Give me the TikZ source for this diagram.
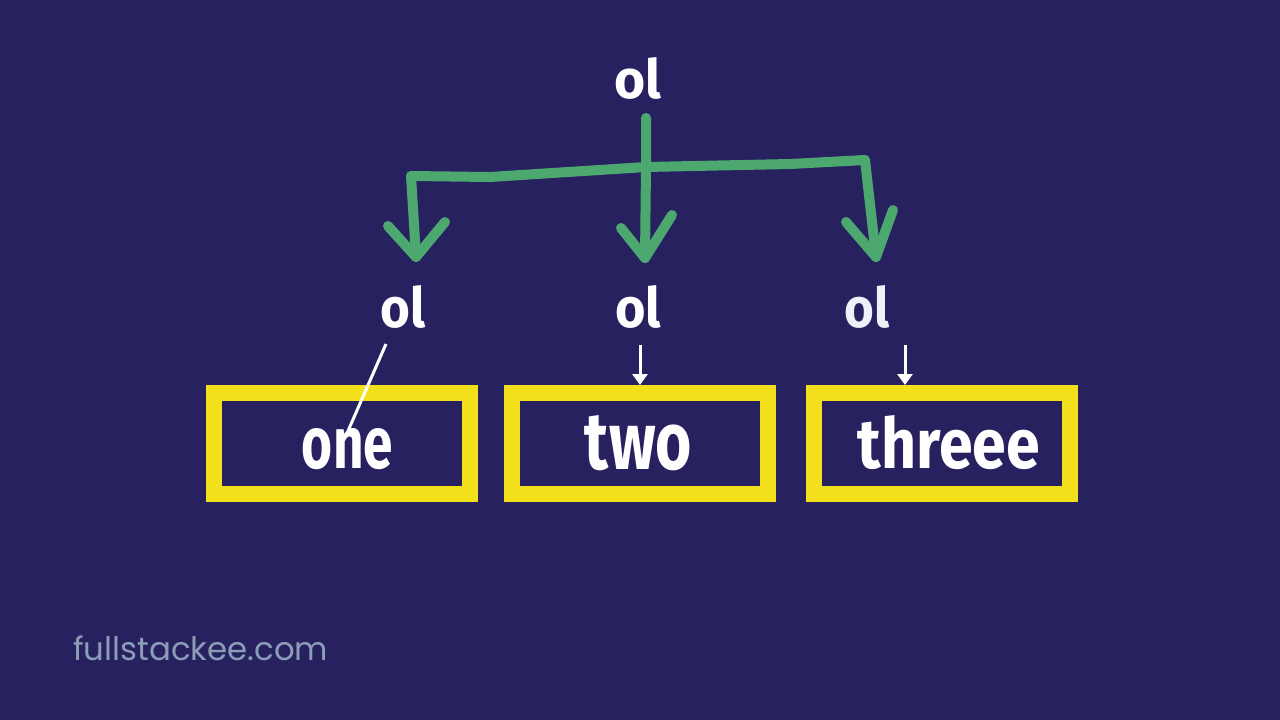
\documentclass[tikz,border=0pt]{standalone}
\usepackage{fontspec}
\usetikzlibrary{arrows.meta}
\newfontfamily\lblfont{Fira Sans}
\newfontfamily\footfont{Poppins}
\definecolor{bg}{HTML}{27215F}
\definecolor{grn}{HTML}{4CA86E}
\definecolor{ylw}{HTML}{F2E01A}
\definecolor{foot}{HTML}{8C9DB8}
\definecolor{offw}{HTML}{EEF2F8}
\newcommand{\lbl}[3]{\resizebox{#1pt}{#2pt}{\lblfont\bfseries #3}}
\tikzset{
  word/.style={inner sep=0pt, outer sep=0pt, anchor=base, text=white},
  ybox/.style={draw=ylw, line width=16pt, minimum width=256pt, minimum height=101pt, inner sep=0pt},
  garrow/.style={draw=grn, line width=10pt, line cap=round, line join=round},
  warrow/.style={draw=white, line width=3pt, -{Triangle[width=15pt,length=11pt]}},
  wline/.style={draw=white, line width=3pt}
}
\begin{document}
\begin{tikzpicture}[x=1pt,y=-1pt]
\fill[bg] (0,0) rectangle (1280,720);
\useasboundingbox (0,0) rectangle (1280,720);

% labels
\node[word] (ol0) at (638,98) {\lbl{47}{41}{ol}};
\node[word] (ol1) at (403,327) {\lbl{45}{42}{ol}};
\node[word] (ol2) at (638,327) {\lbl{46}{42}{ol}};
\node[word, text=offw] (ol3) at (867,327) {\lbl{45}{42}{ol}};

% boxes
\node[ybox] (box1) at (342,443.5) {};
\node[ybox] (box2) at (639.5,443.5) {};
\node[ybox] (box3) at (941.5,443.5) {};
\node[word] (t1) at (347.5,468) {\lbl{91}{40}{one}};
\node[word] (t2) at (638.5,469) {\lbl{107}{54}{two}};
\node[word] (t3) at (949,468) {\lbl{182}{53}{threee}};

% green tree
\coordinate (gtop) at (646,118);
\coordinate (gmid) at (646,167);
\coordinate (gl) at (411,176);
\coordinate (gr) at (865,160);
\coordinate (tipl) at (416,257);
\coordinate (tipm) at (645,258);
\coordinate (tipr) at (876,257);
\draw[garrow] (gtop) -- (gmid) -- (tipm);
\draw[garrow] (gl) -- (490,177) -- (gmid) -- (790,164) -- (gr);
\draw[garrow] (gl) -- (tipl);
\draw[garrow] (gr) -- (tipr);
\draw[garrow] (388,226) -- (tipl) -- (445,222);
\draw[garrow] (621,228) -- (tipm) -- (672,215);
\draw[garrow] (846,222) -- (tipr) -- (893,210);

% white connectors
\coordinate (a1) at (386,344);
\coordinate (e1) at (348,431);
\draw[wline] (a1) -- (e1);
\coordinate (a2) at (640,345);
\draw[warrow] (a2) -- (a2 |- box2.north);
\coordinate (a3) at (905,345);
\draw[warrow] (a3) -- (a3 |- box3.north);

% footer
\node[anchor=base west, inner sep=0pt, text=foot] (foot) at (73,660) {\resizebox{255pt}{!}{\footfont fullstackee.com}};
\end{tikzpicture}
\end{document}
